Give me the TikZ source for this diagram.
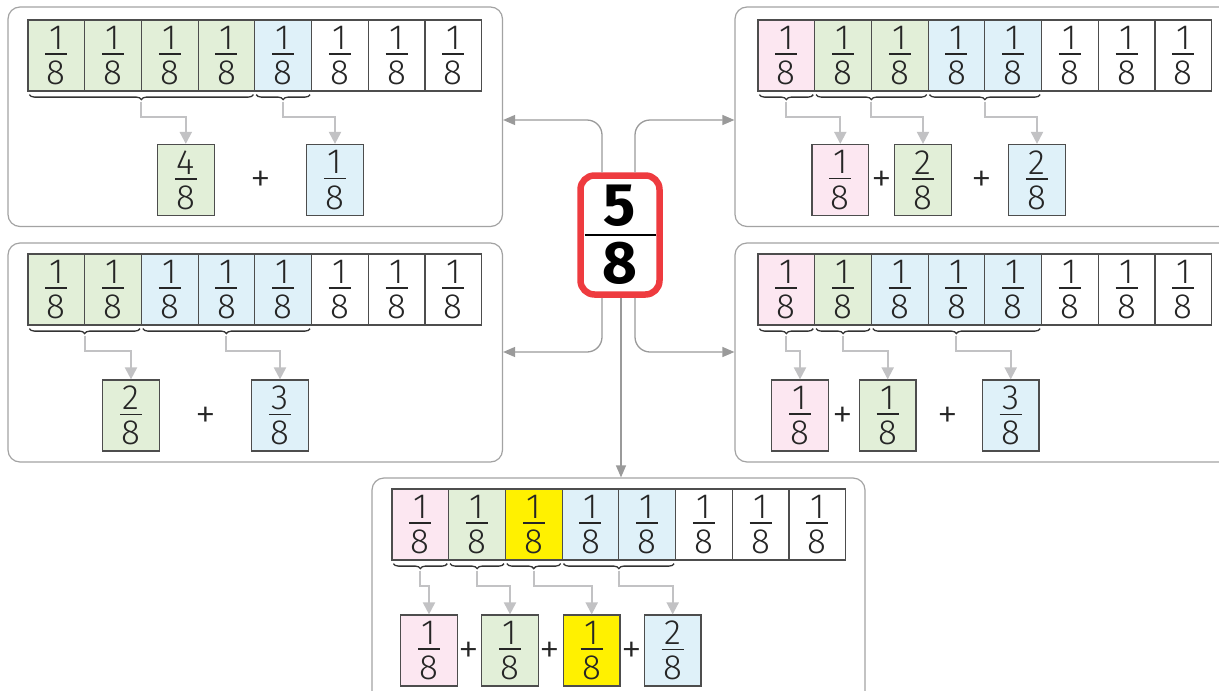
\documentclass[tikz,border=0pt]{standalone}
\usepackage{fontspec}
\setmainfont{Fira Sans}
\IfFontExistsTF{Fira Sans Book}{\newfontfamily\digf{Fira Sans Book}}{\IfFontExistsTF{Fira Sans Light}{\newfontfamily\digf{Fira Sans Light}}{\newfontfamily\digf{Fira Sans}}}
\usetikzlibrary{arrows.meta,decorations.pathreplacing,calc}

\definecolor{gfill}{HTML}{E2EFD8}
\definecolor{bfill}{HTML}{DFF1F9}
\definecolor{pfill}{HTML}{FCE7F1}
\definecolor{yfill}{HTML}{FFF100}
\definecolor{cellline}{HTML}{4D4D4D}
\definecolor{panelline}{HTML}{A3A3A3}
\definecolor{conn}{HTML}{C2C2C4}
\definecolor{cconn}{HTML}{9A9A9A}
\definecolor{redb}{HTML}{EE3B3F}

\newcommand\fr[2]{\vbox{\hbox to 22pt{\hss#1\hss}\kern4pt\hrule height 1.5pt\kern6pt\hbox to 22pt{\hss#2\hss}}}

\tikzset{
  cell/.style={draw=cellline, line width=1.2pt, minimum width=56.7pt, minimum height=71pt,
    inner sep=0pt, font=\digf\fontsize{35}{35}\selectfont, text=black!85},
  plus/.style={font=\digf\fontsize{42}{42}\selectfont, inner sep=0pt, text=black!85},
  panel/.style={draw=panelline, line width=1.2pt, rounded corners=12pt, fill=white, inner sep=0pt},
  br/.style={decorate, decoration={brace, mirror, amplitude=5pt}, draw=black!80, line width=1.3pt},
  parrow/.style={draw=conn, line width=2pt, -{Triangle[length=12pt,width=12pt]}},
  carrow/.style={draw=cconn, line width=1.3pt, rounded corners=15pt, -{Triangle[length=12pt,width=10pt]}},
}

% strip of eight cells: prefix, left x, centre y, fill colours
\newcommand\strip[4]{%
  \foreach \c [count=\i from 0] in {#4}{
    \node[cell, fill=\c] (#1\i) at ({#2+28.35+56.7*\i}, #3) {\fr18};
  }}
% brace under cells #2..#3, tip coordinate #1, arrow to node #4
\newcommand\grp[4]{%
  \draw[br] ([xshift=2pt,yshift=-3pt]#2.south west) -- ([xshift=-2pt,yshift=-3pt]#3.south east);
  \coordinate (#1) at ($(#2.south west)!.5!(#3.south east)+(0,10)$);
  \draw[parrow] (#1) -- ++(0,15.5) -| (#4.north);
}

\begin{document}
\begin{tikzpicture}[x=1pt,y=-1pt]
\useasboundingbox (0,0) rectangle (1219,691);
\clip (0,0) rectangle (1219,691);

% panels
\node[panel, minimum width=494.5pt, minimum height=219.5pt] (tlp) at (255.25,116.75) {};
\node[panel, minimum width=505pt, minimum height=219.5pt] (trp) at (987.5,116.75) {};
\node[panel, minimum width=494.5pt, minimum height=219pt] (mlp) at (255.25,352.5) {};
\node[panel, minimum width=505pt, minimum height=219pt] (mrp) at (987.5,352.5) {};
\node[panel, minimum width=493pt, minimum height=232pt] (bp) at (618.5,594) {};

% top-left panel
\strip{a}{28}{55.5}{gfill,gfill,gfill,gfill,bfill,white,white,white}
\node[cell, fill=gfill] (ar1) at (185.8,180) {\fr48};
\node[cell, fill=bfill] (ar2) at (335,180) {\fr18};
\node[plus] (ap1) at (260.5,182) {+};
\grp{ab1}{a0}{a3}{ar1}
\grp{ab2}{a4}{a4}{ar2}

% top-right panel
\strip{b}{758}{55.5}{pfill,gfill,gfill,bfill,bfill,white,white,white}
\node[cell, fill=pfill] (br1) at (840.3,180) {\fr18};
\node[cell, fill=gfill] (br2) at (923,180) {\fr28};
\node[cell, fill=bfill] (br3) at (1037,180) {\fr28};
\node[plus] (bp1) at (881.5,182) {+};
\node[plus] (bp2) at (982,182) {+};
\grp{bb1}{b0}{b0}{br1}
\grp{bb2}{b1}{b2}{br2}
\grp{bb3}{b3}{b4}{br3}

% middle-left panel
\strip{c}{28}{289.5}{gfill,gfill,bfill,bfill,bfill,white,white,white}
\node[cell, fill=gfill] (cr1) at (131,415.5) {\fr28};
\node[cell, fill=bfill] (cr2) at (280,415.5) {\fr38};
\node[plus] (cp1) at (206,417.5) {+};
\grp{cb1}{c0}{c1}{cr1}
\grp{cb2}{c2}{c4}{cr2}

% middle-right panel
\strip{d}{758}{289.5}{pfill,gfill,bfill,bfill,bfill,white,white,white}
\node[cell, fill=pfill] (dr1) at (800,415.5) {\fr18};
\node[cell, fill=gfill] (dr2) at (887.7,415.5) {\fr18};
\node[cell, fill=bfill] (dr3) at (1010.7,415.5) {\fr38};
\node[plus] (dp1) at (843.3,417.5) {+};
\node[plus] (dp2) at (948.3,417.5) {+};
\grp{db1}{d0}{d0}{dr1}
\grp{db2}{d1}{d1}{dr2}
\grp{db3}{d2}{d4}{dr3}

% bottom panel
\strip{e}{392}{524.5}{pfill,gfill,yfill,bfill,bfill,white,white,white}
\node[cell, fill=pfill] (er1) at (429,650.5) {\fr18};
\node[cell, fill=gfill] (er2) at (510,650.5) {\fr18};
\node[cell, fill=yfill] (er3) at (591.7,650.5) {\fr18};
\node[cell, fill=bfill] (er4) at (672.7,650.5) {\fr28};
\node[plus] (ep1) at (469,652.5) {+};
\node[plus] (ep2) at (550,652.5) {+};
\node[plus] (ep3) at (631.7,652.5) {+};
\grp{eb1}{e0}{e0}{er1}
\grp{eb2}{e1}{e1}{er2}
\grp{eb3}{e2}{e2}{er3}
\grp{eb4}{e3}{e4}{er4}

% centre fraction
\node[draw=redb, line width=6.5pt, rounded corners=14pt, fill=white, inner sep=0pt,
  minimum width=79pt, minimum height=119pt, font=\bfseries\fontsize{60}{60}\selectfont]
  (c) at (620,235)
  {\vbox{\hbox to 71pt{\hss 5\hss}\kern7pt\hrule height 2pt\kern7pt\hbox to 71pt{\hss 8\hss}}};

\draw[carrow] ([xshift=-18pt]c.north) |- (tlp.east |- 0,120);
\draw[carrow] ([xshift=15pt]c.north) |- (trp.west |- 0,120);
\draw[carrow] ([xshift=-18pt]c.south) |- (mlp.east |- 0,352);
\draw[carrow] ([xshift=15pt]c.south) |- (mrp.west |- 0,352);
\draw[carrow] ([xshift=1pt]c.south) -- ([xshift=1pt]c.south |- bp.north);
\end{tikzpicture}
\end{document}
